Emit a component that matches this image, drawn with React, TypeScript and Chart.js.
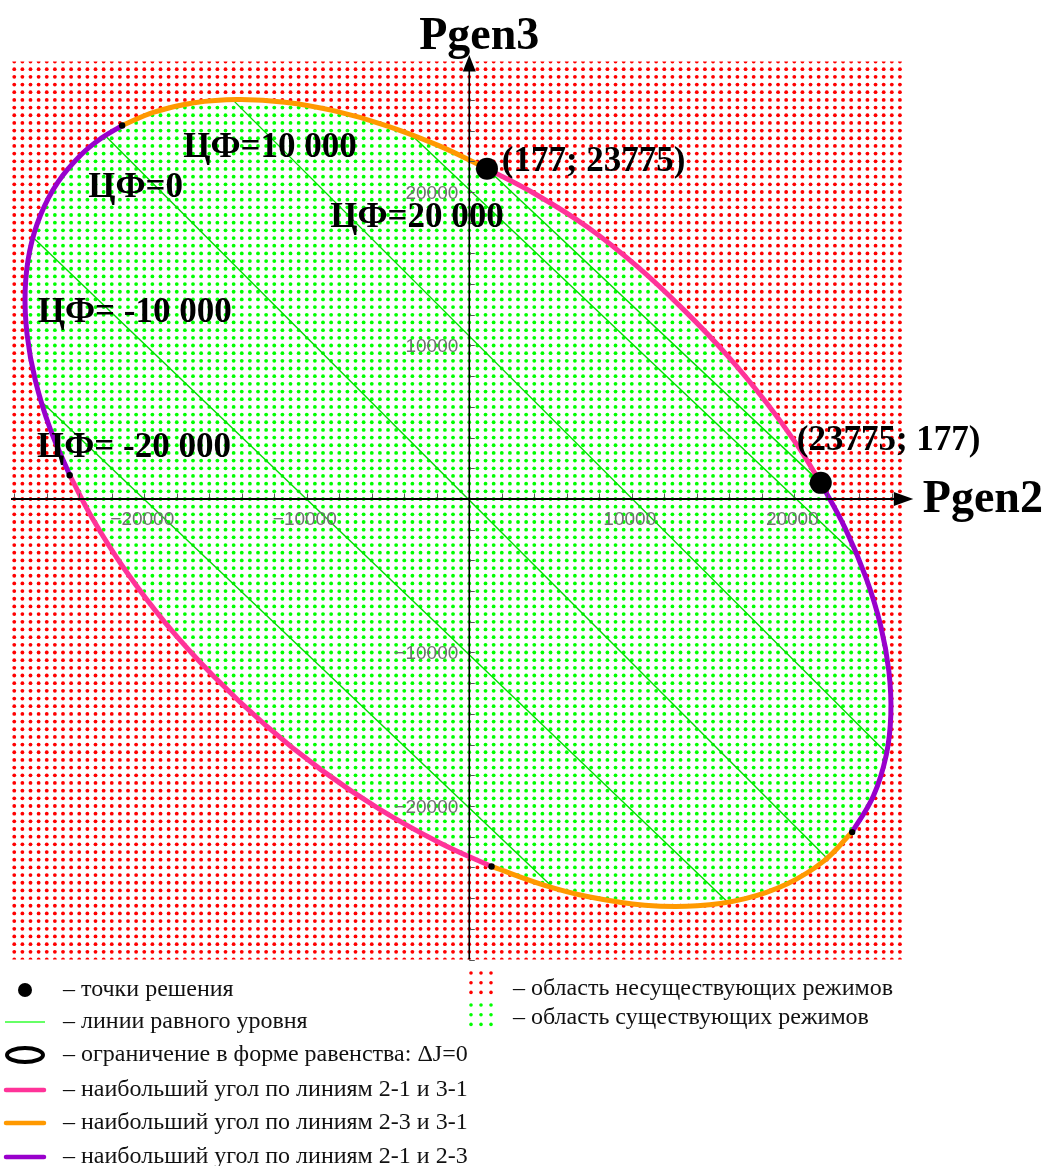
import React, { useEffect, useRef } from "react";
import { Chart, registerables } from "chart.js";

Chart.register(...registerables);

type Pt = [number, number];

// ---------- data (Pgen2, Pgen3) ----------
const X_TICK_LABELS = [-20000, -10000, 10000, 20000];
const Y_TICK_LABELS = [-20000, -10000, 10000, 20000];
const TICK_STEP = 2000;

const arcOrangeBottom: Pt[] = [
  [23560, -21700], [21790, -23610], [19580, -25060], [16980, -26030], [14030, -26500],
  [10800, -26460], [7340, -25910], [4640, -25170], [1370, -23940],
];
const arcPinkBottom: Pt[] = [
  [1370, -23940], [-1830, -22390], [-5530, -20200], [-9130, -17630], [-12560, -14710],
  [-15760, -11510], [-18680, -8100], [-21240, -4530], [-23150, -1340], [-24590, 1550],
];
const arcPurpleLeft: Pt[] = [
  [-24590, 1550], [-25800, 4600], [-26700, 7710], [-27210, 10700], [-27330, 13530],
  [-27050, 16160], [-26370, 18530], [-25320, 20630], [-23890, 22420], [-22660, 23490],
  [-21360, 24330],
];
const arcOrangeTop: Pt[] = [
  [-21360, 24330], [-19390, 25200], [-16930, 25810], [-14240, 26020], [-11340, 25850],
  [-8290, 25280], [-5120, 24330], [-1880, 23020], [1090, 21520],
];
const arcPinkTop: Pt[] = [
  [1090, 21520], [4140, 19820], [7290, 17700], [10330, 15150], [13200, 12320],
  [15870, 9360], [18290, 6270], [20140, 3570], [21630, 1050],
];
const arcPurpleRight: Pt[] = [
  [21630, 1050], [23140, -1930], [24410, -5120], [25310, -8230], [25820, -11220],
  [25940, -14050], [25660, -16680], [24860, -19370], [23560, -21700],
];

const junctionPoints: Pt[] = [[-21360, 24330], [23560, -21700], [1370, -23940], [-24590, 1550]];
const solutionPoints: Pt[] = [[1090, 21520], [21630, 1050]];

// level lines of the objective (end points on the boundary)
const levelLines: Pt[][] = [
  [[-26290, 6300], [5150, -25310]],
  [[-26810, 17000], [15850, -26210]],
  [[-22400, 23660], [22000, -23380]],
  [[-14550, 26000], [25680, -16550]],
  [[-3520, 23680], [23860, -3750]],
  [[1090, 21520], [21630, 1050]],
];

const annotationTexts = [
  "ЦФ=10 000", "ЦФ=0", "ЦФ=20 000", "ЦФ= -10 000", "ЦФ= -20 000", "(177; 23775)", "(23775; 177)",
];
const annotationAnchors: Pt[] = [
  [-17600, 22280], [-23450, 19680], [-8550, 17720], [-26550, 11530], [-26600, 2740],
  [2000, 21370], [20150, 3190],
];

// regular sampling grid of the plane (Pgen2 / Pgen3)
const GRID_P2: [number, number] = [-28000, 26500];
const GRID_P3: [number, number] = [-30000, 28500];
const GRID_STEP = 500;

const legendLeft = [
  "– точки решения",
  "– линии равного уровня",
  "– ограничение в форме равенства: ΔJ=0",
  "– наибольший угол по линиям 2-1 и 3-1",
  "– наибольший угол по линиям 2-3 и 3-1",
  "– наибольший угол по линиям 2-1 и 2-3",
];
const legendRight = ["– область несуществующих режимов", "– область существующих режимов"];

// ---------- styles ----------
const PINK = "#ff3399";
const ORANGE = "#ff9900";
const PURPLE = "#9900cc";
const GREEN_LINE = "#00dd00";
const GREEN_DOT = "#00ff00";
const RED_DOT = "#ff0000";
const SERIF = '"Liberation Serif", "Times New Roman", serif';
const SANS = '"Liberation Sans", Arial, sans-serif';

const fmt = (v: number) => (v < 0 ? "\u2212" + Math.abs(v) : String(v));

function insidePolygon(poly: Pt[], x: number, y: number) {
  let inside = false;
  for (let i = 0, j = poly.length - 1; i < poly.length; j = i++) {
    const [xi, yi] = poly[i];
    const [xj, yj] = poly[j];
    if (yi > y !== yj > y && x < ((xj - xi) * (y - yi)) / (yj - yi) + xi) inside = !inside;
  }
  return inside;
}

// axes drawn through the chart's own scales, above the dot field
const axesPlugin = {
  id: "centerAxes",
  afterDatasetsDraw(chart: any) {
    const { ctx, chartArea } = chart;
    const sx = chart.scales.x;
    const sy = chart.scales.y;
    const ax = sx.getPixelForValue(0);
    const ay = sy.getPixelForValue(0);
    ctx.save();
    // tick marks
    ctx.strokeStyle = "#555";
    ctx.lineWidth = 1;
    ctx.beginPath();
    for (let v = Math.ceil(sx.min / TICK_STEP) * TICK_STEP; v <= sx.max; v += TICK_STEP) {
      const px = Math.round(sx.getPixelForValue(v)) + 0.5;
      ctx.moveTo(px, ay);
      ctx.lineTo(px, ay - 5.5);
    }
    for (let v = Math.ceil(sy.min / TICK_STEP) * TICK_STEP; v <= sy.max; v += TICK_STEP) {
      const py = Math.round(sy.getPixelForValue(v)) + 0.5;
      ctx.moveTo(ax, py);
      ctx.lineTo(ax + 5.5, py);
    }
    ctx.stroke();
    // axis lines
    ctx.strokeStyle = "#000";
    ctx.lineWidth = 2;
    ctx.beginPath();
    ctx.moveTo(chartArea.left, ay);
    ctx.lineTo(chartArea.right, ay);
    ctx.stroke();
    ctx.lineWidth = 1.6;
    ctx.beginPath();
    ctx.moveTo(ax, chartArea.top);
    ctx.lineTo(ax, chartArea.bottom);
    ctx.stroke();
    // tick labels
    ctx.fillStyle = "#707070";
    ctx.font = `19px ${SANS}`;
    ctx.textBaseline = "alphabetic";
    ctx.textAlign = "center";
    X_TICK_LABELS.forEach((v) => ctx.fillText(fmt(v), sx.getPixelForValue(v) - 2, ay + 26));
    ctx.textAlign = "right";
    Y_TICK_LABELS.forEach((v) => ctx.fillText(fmt(v), ax - 11, sy.getPixelForValue(v) + 7));
    ctx.restore();
  },
};

const overlay = {
  id: "overlay",
  afterDraw(chart: any) {
    const { ctx, chartArea } = chart;
    const sx = chart.scales.x;
    const sy = chart.scales.y;
    const ax = sx.getPixelForValue(0);
    const ay = sy.getPixelForValue(0);
    ctx.save();
    ctx.fillStyle = "#000";
    // arrows
    ctx.beginPath();
    ctx.moveTo(chartArea.right + 8.5, ay);
    ctx.lineTo(chartArea.right - 11, ay - 7);
    ctx.lineTo(chartArea.right - 11, ay + 7);
    ctx.closePath();
    ctx.fill();
    ctx.beginPath();
    ctx.moveTo(ax, chartArea.top - 6.5);
    ctx.lineTo(ax - 6.5, chartArea.top + 10);
    ctx.lineTo(ax + 6.5, chartArea.top + 10);
    ctx.closePath();
    ctx.fill();
    // axis titles
    ctx.font = `bold 46px ${SERIF}`;
    ctx.textBaseline = "alphabetic";
    ctx.textAlign = "center";
    ctx.fillText("Pgen3", ax + 10, chartArea.top - 13);
    ctx.textAlign = "left";
    ctx.fillText("Pgen2", chartArea.right + 18, ay + 13);
    // annotations
    ctx.font = `bold 35px ${SERIF}`;
    annotationTexts.forEach((t, i) => {
      const [px, py] = annotationAnchors[i];
      ctx.fillText(t, sx.getPixelForValue(px), sy.getPixelForValue(py));
    });
    // legend (left column)
    const rows = [990, 1022, 1055, 1090, 1123, 1157];
    ctx.font = `24px ${SERIF}`;
    ctx.fillStyle = "#111";
    legendLeft.forEach((t, i) => ctx.fillText(t, 63, rows[i] + 6));
    ctx.fillStyle = "#000";
    ctx.beginPath();
    ctx.arc(25, rows[0], 7, 0, Math.PI * 2);
    ctx.fill();
    ctx.strokeStyle = "#33ff33";
    ctx.lineWidth = 1.5;
    ctx.beginPath();
    ctx.moveTo(5, rows[1]);
    ctx.lineTo(45, rows[1]);
    ctx.stroke();
    ctx.strokeStyle = "#000";
    ctx.lineWidth = 4;
    ctx.beginPath();
    ctx.ellipse(25, rows[2], 18, 7, 0, 0, Math.PI * 2);
    ctx.stroke();
    [PINK, ORANGE, PURPLE].forEach((c, k) => {
      ctx.strokeStyle = c;
      ctx.lineWidth = 4.5;
      ctx.lineCap = "round";
      ctx.beginPath();
      ctx.moveTo(6, rows[3 + k]);
      ctx.lineTo(44, rows[3 + k]);
      ctx.stroke();
    });
    // legend (right column)
    const drawDots = (color: string, y0: number) => {
      ctx.fillStyle = color;
      for (let r = 0; r < 3; r++)
        for (let c = 0; c < 3; c++) {
          ctx.beginPath();
          ctx.arc(471 + c * 10, y0 + r * 9.7, 1.8, 0, Math.PI * 2);
          ctx.fill();
        }
    };
    drawDots(RED_DOT, 973);
    drawDots(GREEN_DOT, 1005);
    ctx.fillStyle = "#111";
    ctx.font = `24px ${SERIF}`;
    ctx.fillText(legendRight[0], 513, 995);
    ctx.fillText(legendRight[1], 513, 1024);
    ctx.restore();
  },
};

export default function App() {
  const ref = useRef<HTMLCanvasElement>(null);

  useEffect(() => {
    const canvas = ref.current;
    if (!canvas) return;
    const boundary: Pt[] = [
      ...arcOrangeBottom, ...arcPinkBottom, ...arcPurpleLeft,
      ...arcOrangeTop, ...arcPinkTop, ...arcPurpleRight,
    ];
    const red: { x: number; y: number }[] = [];
    const green: { x: number; y: number }[] = [];
    for (let x = GRID_P2[0]; x <= GRID_P2[1]; x += GRID_STEP) {
      for (let y = GRID_P3[0]; y <= GRID_P3[1]; y += GRID_STEP) {
        (insidePolygon(boundary, x, y) ? green : red).push({ x, y });
      }
    }
    const toXY = (a: Pt[]) => a.map(([x, y]) => ({ x, y }));
    const arc = (data: Pt[], color: string) => ({
      data: toXY(data),
      showLine: true,
      borderColor: color,
      borderWidth: 5,
      pointRadius: 0,
      tension: 0.4,
      borderCapStyle: "round",
      borderJoinStyle: "round",
      order: 3,
    });
    const datasets: any[] = [
      { data: red, pointRadius: 1.9, backgroundColor: RED_DOT, borderWidth: 0, order: 10 },
      { data: green, pointRadius: 1.9, backgroundColor: GREEN_DOT, borderWidth: 0, order: 10 },
      ...levelLines.map((l) => ({
        data: toXY(l),
        showLine: true,
        borderColor: GREEN_LINE,
        borderWidth: 1.4,
        pointRadius: 0,
        order: 5,
      })),
      arc(arcOrangeBottom, ORANGE),
      arc(arcPinkBottom, PINK),
      arc(arcPurpleLeft, PURPLE),
      arc(arcOrangeTop, ORANGE),
      arc(arcPinkTop, PINK),
      arc(arcPurpleRight, PURPLE),
      { data: toXY(junctionPoints), pointRadius: 3.2, backgroundColor: "#000", borderWidth: 0, order: 2 },
      { data: toXY(solutionPoints), pointRadius: 11, backgroundColor: "#000", borderWidth: 0, order: 1 },
    ];

    const chart = new Chart(canvas, {
      type: "scatter",
      data: { datasets },
      options: {
        responsive: false,
        animation: false,
        devicePixelRatio: 1,
        events: [],
        layout: { padding: { left: 11, right: 144.2, top: 61.5, bottom: 206.5 } },
        plugins: { legend: { display: false }, tooltip: { enabled: false } },
        scales: {
          x: { type: "linear", min: -28200, max: 26800, display: false },
          y: { type: "linear", min: -30000, max: 28500, display: false },
        },
      },
      plugins: [axesPlugin, overlay],
    });
    return () => chart.destroy();
  }, []);

  return (
    <div style={{ position: "absolute", left: 0, top: 0, width: 1049, height: 1166, background: "#fff" }}>
      <canvas ref={ref} width={1049} height={1166} style={{ display: "block" }} />
    </div>
  );
}
